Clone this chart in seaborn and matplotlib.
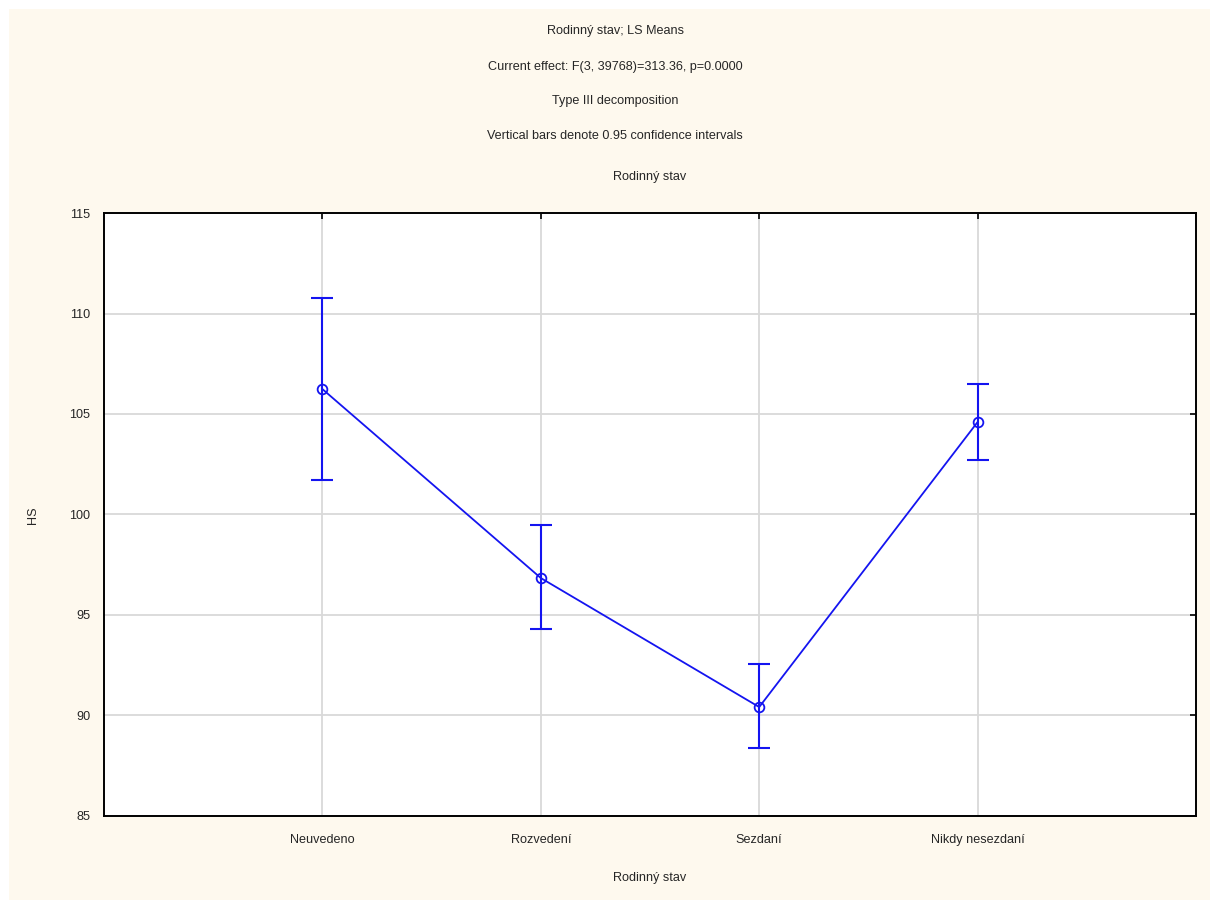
import numpy as np
import pandas as pd
import matplotlib
matplotlib.use("Agg")
import matplotlib.pyplot as plt
import seaborn as sns

# Data
categories = ["Neuvedeno", "Rozvedení", "Sezdaní", "Nikdy nesezdaní"]
means = [106.24, 96.84, 90.42, 104.60]
ci_upper = [110.77, 99.48, 92.56, 106.49]
ci_lower = [101.72, 94.30, 88.38, 102.71]
y_ticks = [85, 90, 95, 100, 105, 110, 115]

title_lines = [
    "Rodinný stav; LS Means",
    "Current effect: F(3, 39768)=313.36, p=0.0000",
    "Type III decomposition",
    "Vertical bars denote 0.95 confidence intervals",
]

df = pd.DataFrame({"Rodinný stav": categories, "HS": means,
                   "low": ci_lower, "high": ci_upper})
df["pos"] = np.arange(len(df))

sns.set_style("white")
plt.rcParams["font.family"] = ["Liberation Sans", "DejaVu Sans"]
FS = 9.1

W, H = 1216, 909
fig = plt.figure(figsize=(W / 100, H / 100), dpi=100)
fig.patch.set_facecolor("white")
fig.patches.append(plt.Rectangle((9 / W, 9 / H), 1201 / W, 891 / H, transform=fig.transFigure,
                                 facecolor="#FEF9EE", edgecolor="none", zorder=-5))

ax = fig.add_axes([104 / W, 1 - 816 / H, 1092 / W, 603 / H])
ax.set_zorder(2)
ax.set_facecolor("white")

blue = "#1414F0"
sns.lineplot(data=df, x="pos", y="HS", ax=ax, color=blue, linewidth=1.3,
             marker="o", markersize=7, markerfacecolor="none",
             markeredgecolor=blue, markeredgewidth=1.3, zorder=3)
ax.errorbar(df["pos"], df["HS"],
            yerr=[df["HS"] - df["low"], df["high"] - df["HS"]],
            fmt="none", ecolor=blue, elinewidth=1.5, capsize=8, capthick=1.5, zorder=3)

ax.set_xlim(-1, 4)
ax.set_ylim(85, 115)
ax.set_xticks(df["pos"])
ax.set_xticklabels(categories)
ax.set_yticks(y_ticks)
ax.grid(True, color="#D9D9D9", linewidth=1.3)
ax.set_axisbelow(True)
for s in ax.spines.values():
    s.set_color("black")
    s.set_linewidth(1.4)
    s.set_visible(True)
ax.tick_params(direction="in", length=4, width=1.2, color="black",
               top=True, right=True, labelsize=FS, pad=10)
ax.tick_params(axis="x", pad=13)

ax.set_xlabel("")
ax.set_ylabel("")
fig.text(650 / W, 1 - 878 / H, "Rodinný stav", ha="center", va="center", fontsize=FS)
fig.text(33 / W, 1 - 515 / H, "HS", ha="center", va="center", rotation=90, fontsize=FS)

for txt, yp in zip(title_lines, [31, 67, 101, 136]):
    fig.text(615 / W, 1 - yp / H, txt, ha="center", va="center", fontsize=FS)
fig.text(650 / W, 1 - 177 / H, "Rodinný stav", ha="center", va="center", fontsize=FS)

fig.savefig("out.png", dpi=100, facecolor=fig.get_facecolor())
